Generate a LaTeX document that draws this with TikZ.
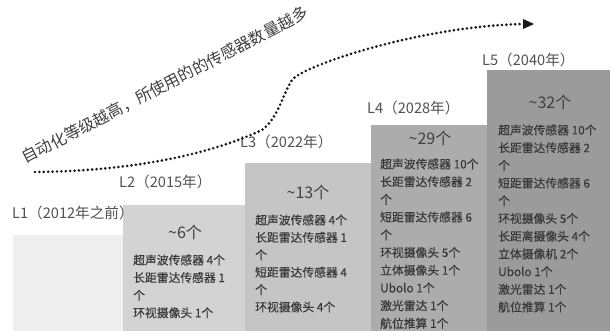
\documentclass[tikz,border=0pt]{standalone}
\usepackage{fontspec}
\setmainfont{Noto Sans CJK SC}
\newfontfamily\itemfont[FakeBold=0.35]{Noto Sans CJK SC}
\usetikzlibrary{arrows.meta}
\begin{document}
\begin{tikzpicture}[x=1pt,y=-1pt,
  bar/.style={draw=none, inner sep=0pt, outer sep=0pt, anchor=north west},
  lvl/.style={anchor=west, inner sep=0pt, font=\fontsize{14.6}{16}\selectfont, text=black!68},
  cnt/.style={anchor=center, inner sep=0pt, font=\fontsize{16}{18}\selectfont, text=black!75},
  item/.style={anchor=west, inner sep=0pt, font=\itemfont\fontsize{11.8}{14}\selectfont, text=black!78},
  dots/.style={line width=2.9pt, dash pattern=on 0pt off 4.4pt, line cap=round, draw=black!90}]
\useasboundingbox (0,0) rectangle (610,331);
\fill[white] (0,0) rectangle (610,331);
% bars
\node[bar, fill={rgb,255:red,239;green,239;blue,239}, minimum width=110pt, minimum height=96pt] (b1) at (13,235) {};
\node[bar, fill={rgb,255:red,211;green,211;blue,211}, minimum width=122pt, minimum height=126pt] (b2) at (123,205) {};
\node[bar, fill={rgb,255:red,197;green,197;blue,197}, minimum width=126pt, minimum height=168pt] (b3) at (245,163) {};
\node[bar, fill={rgb,255:red,172;green,172;blue,172}, minimum width=116pt, minimum height=206pt] (b4) at (371,125) {};
\node[bar, fill={rgb,255:red,155;green,155;blue,155}, minimum width=123pt, minimum height=261pt] (b5) at (487,70) {};
% level labels
\node[lvl] (t1) at (12,213) {L1（2012年之前）};
\node[lvl] (t2) at (119,182) {L2（2015年）};
\node[lvl] (t3) at (240,142) {L3（2022年）};
\node[lvl] (t4) at (367,108) {L4（2028年）};
\node[lvl] (t5) at (482,60) {L5（2040年）};
% counts
\node[cnt] (c2) at (185,232) {{\char"7E}6个};
\node[cnt] (c3) at (308,192) {{\char"7E}13个};
\node[cnt] (c4) at (430,138) {{\char"7E}29个};
\node[cnt] (c5) at (550,102) {{\char"7E}32个};
% lists
\foreach \t [count=\i] in {超声波传感器 4个, 长距雷达传感器 1, 个, 环视摄像头 1个}
  \node[item] (l2-\i) at (133,{260+17.6*(\i-1)}) {\t};
\foreach \t [count=\i] in {超声波传感器 4个, 长距雷达传感器 1, 个, 短距雷达传感器 4, 个, 环视摄像头 4个}
  \node[item] (l3-\i) at (255,{220+17.4*(\i-1)}) {\t};
\foreach \t [count=\i] in {超声波传感器 10个, 长距雷达传感器 2, 个, 短距雷达传感器 6, 个, 环视摄像头 5个, 立体摄像头 1个, Ubolo 1个, 激光雷达 1个, 航位推算 1个}
  \node[item] (l4-\i) at (380,{164+17.7*(\i-1)}) {\t};
\foreach \t [count=\i] in {超声波传感器 10个, 长距雷达传感器 2, 个, 短距雷达传感器 6, 个, 环视摄像头 5个, 长距离摄像头 4个, 立体摄像机 2个, Ubolo 1个, 激光雷达 1个, 航位推算 1个}
  \node[item] (l5-\i) at (498,{130+17.7*(\i-1)}) {\t};
% slogan
\node[rotate=27.4, inner sep=0pt, font=\fontsize{16}{18}\selectfont, text=black!75] (slogan) at (165,85) {自动化等级越高，所使用的的传感器数量越多};
% dotted arrow
\coordinate (s) at (35,172);
\coordinate (m1) at (262,130);
\coordinate (m2) at (292,80);
\coordinate (e) at (524,24);
\draw[dots] (s) .. controls (140,171) and (215,152) .. (m1)
  .. controls (278,118) and (282,96) .. (m2)
  .. controls (302,66) and (420,26) .. (e);
\fill[black!90] (534,24) -- (523,19) -- (523,29) -- cycle;
\end{tikzpicture}
\end{document}
